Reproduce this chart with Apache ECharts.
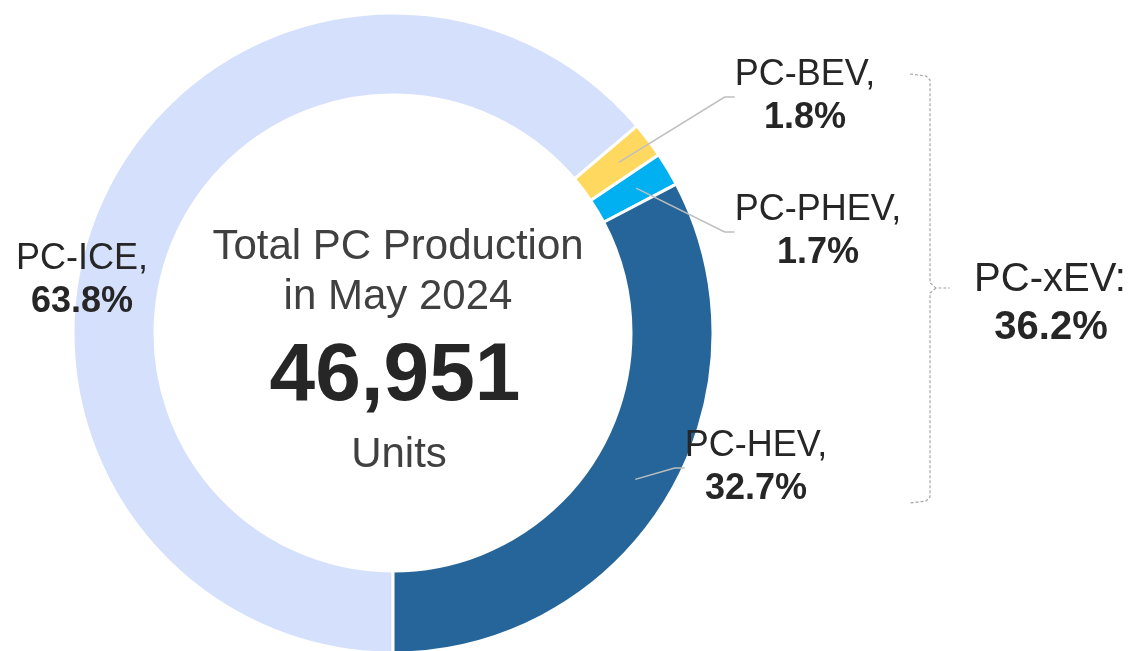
<!DOCTYPE html>
<html>
<head>
<meta charset="utf-8">
<title>Total PC Production May 2024</title>
<script src="https://cdn.jsdelivr.net/npm/echarts@6/dist/echarts.min.js"></script>
<style>
html, body { margin: 0; padding: 0; background: #ffffff; }
#chart { width: 1133px; height: 651px; }
</style>
</head>
<body>
<div id="chart"></div>
<script>
// data
var categories = ["PC-ICE", "PC-BEV", "PC-PHEV", "PC-HEV"];
var shares = [63.8, 1.8, 1.7, 32.7];
var xevCategories = ["PC-BEV", "PC-PHEV", "PC-HEV"];
var totalUnits = 46951;
var centerLines = ["Total PC Production", "in May 2024"];
var unitLabel = "Units";

var FONT = "'Liberation Sans', Arial, sans-serif";
var COLORS = {
    "PC-ICE": "#d5e0fc",
    "PC-BEV": "#ffd95f",
    "PC-PHEV": "#00b0f0",
    "PC-HEV": "#266599"
};

// where each label block sits (label centre, px) and the gap kept before the leader line
var labelSpots = {
    "PC-ICE": [82, 281, 9],
    "PC-BEV": [805, 97, 17],
    "PC-PHEV": [818, 232, 9],
    "PC-HEV": [756, 468, 9]
};

var CX = 393, CY = 333;

var ringData = [];
var labelData = [];
var xevShare = 0;
for (var i = 0; i < categories.length; i++) {
    var name = categories[i];
    var gap = labelSpots[name][2];
    ringData.push({
        name: name,
        value: shares[i],
        itemStyle: { color: COLORS[name] }
    });
    labelData.push({
        name: name,
        value: shares[i],
        label: { padding: [0, gap] },
        labelLine: { show: name != "PC-ICE" }
    });
    if (xevCategories.indexOf(name) >= 0) {
        xevShare += shares[i];
    }
}

var chart = echarts.init(document.getElementById("chart"), null, { renderer: "canvas" });

var option = {
    animation: false,
    backgroundColor: "#ffffff",
    series: [
        {
            name: "ring",
            type: "pie",
            z: 2,
            center: [CX, CY],
            radius: [238, 320],
            startAngle: -90,
            clockwise: true,
            silent: true,
            label: { show: false },
            labelLine: { show: false },
            itemStyle: { borderColor: "#ffffff", borderWidth: 3 },
            data: ringData
        },
        {
            // invisible pie, only here to carry labels and leader lines
            name: "labels",
            type: "pie",
            z: 5,
            center: [CX, CY],
            radius: [0, 283],
            startAngle: -90,
            clockwise: true,
            silent: true,
            avoidLabelOverlap: false,
            itemStyle: { color: "rgba(0,0,0,0)", borderWidth: 0 },
            label: {
                show: true,
                position: "outside",
                formatter: function(p) {
                    return "{n|" + p.name + ",}\n{p|" + p.value.toFixed(1) + "%}";
                },
                rich: {
                    n: { fontFamily: FONT, fontSize: 36, color: "#262626", lineHeight: 43, align: "center" },
                    p: { fontFamily: FONT, fontSize: 36, fontWeight: "bold", color: "#262626", lineHeight: 43, align: "center" }
                }
            },
            labelLine: {
                show: true,
                length: 20,
                length2: 10,
                minTurnAngle: 0,
                lineStyle: { color: "#bfbfbf", width: 1.5 }
            },
            labelLayout: function(params) {
                var spot = labelSpots[categories[params.dataIndex]];
                return {
                    x: spot[0],
                    y: spot[1],
                    align: "center",
                    verticalAlign: "middle"
                };
            },
            data: labelData
        }
    ],
    graphic: [
        {
            type: "text", x: 398, y: 247,
            style: { text: centerLines[0], font: "42px " + FONT, fill: "#404040", align: "center", verticalAlign: "middle" }
        },
        {
            type: "text", x: 398, y: 297,
            style: { text: centerLines[1], font: "42px " + FONT, fill: "#404040", align: "center", verticalAlign: "middle" }
        },
        {
            type: "text", x: 395, y: 377,
            style: { text: totalUnits.toLocaleString("en-US"), font: "bold 82px " + FONT, fill: "#262626", align: "center", verticalAlign: "middle" }
        },
        {
            type: "text", x: 399, y: 455,
            style: { text: unitLabel, font: "42px " + FONT, fill: "#404040", align: "center", verticalAlign: "middle" }
        },
        {
            // curly brace grouping the xEV slices
            type: "polyline",
            shape: { points: [[910, 74], [926, 76], [930, 80], [930, 283], [936, 288], [950, 288]] },
            style: { stroke: "#a6a6a6", lineWidth: 1.2, lineDash: [3, 2], fill: null }
        },
        {
            type: "polyline",
            shape: { points: [[936, 288], [930, 293], [930, 497], [926, 501], [910, 503]] },
            style: { stroke: "#a6a6a6", lineWidth: 1.2, lineDash: [3, 2], fill: null }
        },
        {
            type: "text", x: 1050, y: 280,
            style: { text: "PC-xEV:", font: "40px " + FONT, fill: "#262626", align: "center", verticalAlign: "middle" }
        },
        {
            type: "text", x: 1051, y: 328,
            style: { text: xevShare.toFixed(1) + "%", font: "bold 40px " + FONT, fill: "#262626", align: "center", verticalAlign: "middle" }
        }
    ]
};

chart.setOption(option, true);
</script>
</body>
</html>
